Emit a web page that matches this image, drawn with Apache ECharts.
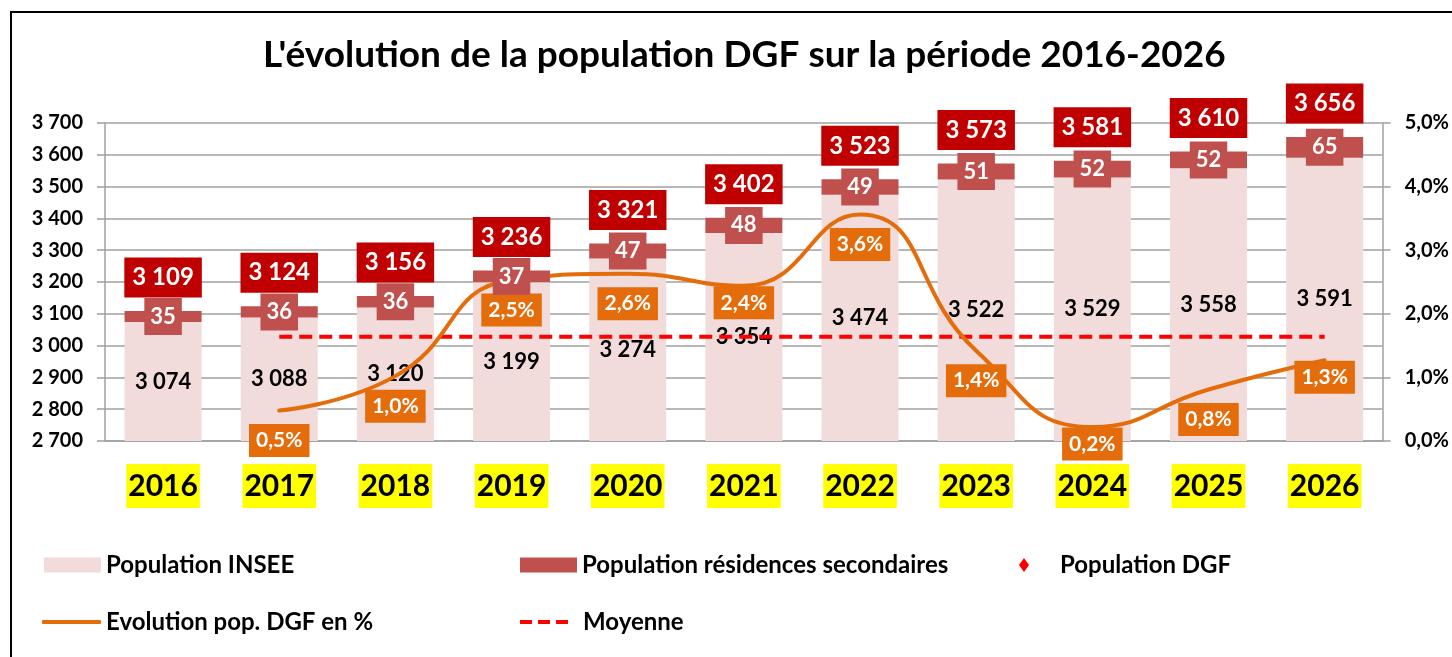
<!DOCTYPE html>
<html>
<head>
<meta charset="utf-8">
<style>
  html, body { margin: 0; padding: 0; background: #fff; }
  #main { width: 1452px; height: 657px; }
</style>
</head>
<body>
<div id="main"></div>
<script src="https://cdn.jsdelivr.net/npm/echarts@6/dist/echarts.min.js"></script>
<script>
    var years = ['2016', '2017', '2018', '2019', '2020', '2021', '2022', '2023', '2024', '2025', '2026'];
    var popInsee = [3074, 3088, 3120, 3199, 3274, 3354, 3474, 3522, 3529, 3558, 3591];
    var popSecond = [35, 36, 36, 37, 47, 48, 49, 51, 52, 52, 65];
    var popDgf = [3109, 3124, 3156, 3236, 3321, 3402, 3523, 3573, 3581, 3610, 3656];
    var evolution = [null, 0.48, 1.02, 2.53, 2.63, 2.44, 3.56, 1.42, 0.22, 0.81, 1.27];
    var moyenne = [null, 1.64, 1.64, 1.64, 1.64, 1.64, 1.64, 1.64, 1.64, 1.64, 1.64];

    var FONT = 'Lato';
    var myChart = echarts.init(document.getElementById('main'));

    function milliers(v) {
        return String(v).replace(/\B(?=(\d{3})+(?!\d))/g, ' ');
    }
    function pct(v) {
        return v.toFixed(1).replace('.', ',') + '%';
    }

    // quelques étiquettes d'évolution sont collées au point dans l'original
    var labelsProches = [5, 8, 10];
    var evoData = evolution.map(function (v, i) {
        if (labelsProches.indexOf(i) >= 0) {
            return { value: v, label: { distance: 0 } };
        }
        return v;
    });

    function legende(nom, left, top, extra) {
        var l = {
            data: [{ name: nom, icon: 'rect' }],
            left: left,
            top: top,
            padding: 0,
            itemWidth: 57,
            itemHeight: 15,
            selectedMode: false,
            textStyle: { fontFamily: FONT, fontWeight: 'bold', fontSize: 24, lineHeight: 24, color: '#000' }
        };
        for (var k in extra) l[k] = extra[k];
        return l;
    }

    option = {
        animation: false,
        backgroundColor: '#fff',
        textStyle: { fontFamily: FONT },
        title: {
            text: "L'évolution de la population DGF sur la période 2016-2026",
            left: 258,
            top: 32,
            textStyle: { fontFamily: FONT, fontWeight: 'bold', fontSize: 37, color: '#000' }
        },
        graphic: [{
            type: 'rect',
            shape: { x: 11, y: 12, width: 1500, height: 700 },
            style: { fill: 'none', stroke: '#000', lineWidth: 2 },
            silent: true
        }],
        legend: [
            legende('Population INSEE', 44, 553),
            legende('Population résidences secondaires', 520, 553),
            legende('Population DGF', 1019, 553, {
                data: [{ name: 'Population DGF', icon: 'path://M5,0L10,7L5,14L0,7Z M36,7L36.01,7Z' }],
                itemWidth: 36, itemHeight: 14,
                itemStyle: { color: '#ff0000', borderWidth: 0 }
            }),
            legende('Evolution pop. DGF en %', 42, 610, {
                data: [{ name: 'Evolution pop. DGF en %', icon: 'roundRect' }],
                itemWidth: 59, itemHeight: 4
            }),
            legende('Moyenne', 520, 610, {
                data: [{ name: 'Moyenne', icon: 'path://M0,0h12v4h-12Z M18,0h12v4h-12Z M36,0h12v4h-12Z M58,2L58.01,2Z' }],
                itemWidth: 58, itemHeight: 4,
                itemStyle: { color: '#ff0000', borderWidth: 0 }
            })
        ],
        grid: {
            left: 105,
            right: 69,
            top: 123,
            bottom: 216
        },
        xAxis: [{
            type: 'category',
            data: years,
            axisLine: { lineStyle: { color: '#a0a0a0', width: 1.5 } },
            axisTick: { length: 10, lineStyle: { color: '#a0a0a0', width: 1.5 } },
            axisLabel: {
                margin: 23,
                color: '#000',
                fontFamily: FONT,
                fontWeight: 'bold',
                fontSize: 30,
                lineHeight: 32,
                backgroundColor: '#ffff00',
                padding: [6, 2, 6, 2]
            }
        }],
        yAxis: [{
            type: 'value',
            min: 2700,
            max: 3700,
            interval: 100,
            axisLine: { show: true, lineStyle: { color: '#a0a0a0', width: 1.5 } },
            axisTick: { show: true, length: 8, lineStyle: { color: '#a0a0a0', width: 1.5 } },
            splitLine: { lineStyle: { color: '#a0a0a0', width: 1.5 } },
            axisLabel: {
                margin: 22,
                color: '#000',
                fontFamily: FONT,
                fontWeight: 'bold',
                fontSize: 20,
                formatter: milliers
            }
        }, {
            type: 'value',
            min: 0,
            max: 5,
            interval: 1,
            position: 'right',
            axisLine: { show: true, lineStyle: { color: '#a0a0a0', width: 1.5 } },
            axisTick: { show: true, length: 8, lineStyle: { color: '#a0a0a0', width: 1.5 } },
            splitLine: { show: false },
            axisLabel: {
                margin: 22,
                color: '#000',
                fontFamily: FONT,
                fontWeight: 'bold',
                fontSize: 20,
                formatter: pct
            }
        }],
        series: [
            {
                name: 'Population INSEE',
                type: 'bar',
                stack: 'pop',
                barWidth: 77,
                data: popInsee,
                itemStyle: { color: '#f2dcdb' },
                label: {
                    show: true,
                    position: 'inside',
                    color: '#000',
                    fontFamily: FONT,
                    fontWeight: 'bold',
                    fontSize: 22,
                    formatter: function (p) { return milliers(p.value); }
                }
            },
            {
                name: 'Population résidences secondaires',
                type: 'bar',
                stack: 'pop',
                data: popSecond,
                itemStyle: { color: '#c0504d' },
                z: 5,
                label: {
                    show: true,
                    position: 'inside',
                    color: '#fff',
                    fontFamily: FONT,
                    fontWeight: 'bold',
                    fontSize: 22,
                    lineHeight: 22,
                    backgroundColor: '#c0504d',
                    padding: [8, 6, 7, 6]
                }
            },
            {
                name: 'Population DGF',
                type: 'line',
                data: popDgf,
                symbol: 'diamond',
                symbolSize: 1,
                itemStyle: { color: '#ff0000' },
                lineStyle: { width: 0, opacity: 0 },
                z: 6,
                label: {
                    show: true,
                    position: 'top',
                    distance: 13,
                    color: '#fff',
                    fontFamily: FONT,
                    fontWeight: 'bold',
                    fontSize: 24,
                    lineHeight: 24,
                    backgroundColor: '#c00000',
                    padding: [8, 8, 8, 8],
                    formatter: function (p) { return milliers(p.value); }
                }
            },
            {
                name: 'Moyenne',
                type: 'line',
                yAxisIndex: 1,
                data: moyenne,
                symbol: 'none',
                itemStyle: { color: '#ff0000' },
                lineStyle: { color: '#ff0000', width: 4, type: [13, 7] },
                z: 3
            },
            {
                name: 'Evolution pop. DGF en %',
                type: 'line',
                yAxisIndex: 1,
                data: evoData,
                smooth: 0.5,
                symbol: 'circle',
                symbolSize: 1,
                itemStyle: { color: '#e46c0a' },
                lineStyle: { color: '#e46c0a', width: 4, cap: 'round' },
                z: 4,
                label: {
                    show: true,
                    position: 'bottom',
                    distance: 13,
                    color: '#fff',
                    fontFamily: FONT,
                    fontWeight: 'bold',
                    fontSize: 21,
                    lineHeight: 21,
                    backgroundColor: '#e46c0a',
                    padding: [6, 7, 6, 7],
                    formatter: function (p) { return pct(p.value); }
                }
            }
        ]
    };

    myChart.setOption(option);
</script>
</body>
</html>
